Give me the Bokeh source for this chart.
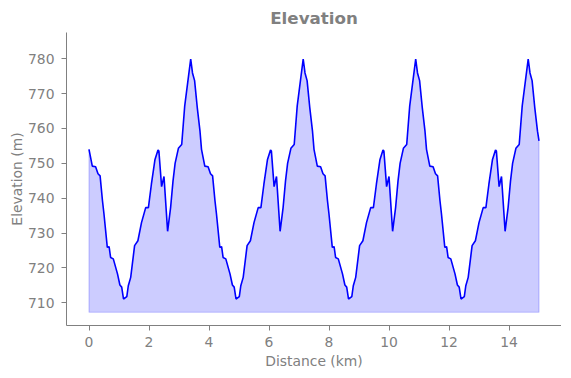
from bokeh.plotting import figure
from bokeh.models import Range1d, FixedTicker, Spacer
from bokeh.layouts import row
from bokeh.embed import file_html
from bokeh.resources import INLINE

# Distance along the course (km) and elevation (m)
distance_km = [
    0.00, 0.11, 0.22, 0.30, 0.37, 0.45, 0.50, 0.61, 0.67, 0.72, 0.81, 0.95, 1.03, 1.09,
    1.15, 1.26, 1.31, 1.39, 1.52, 1.63, 1.75, 1.89, 1.98, 2.08, 2.20, 2.30, 2.33, 2.42,
    2.50, 2.62, 2.72, 2.80, 2.87, 2.98, 3.09, 3.19, 3.31, 3.39, 3.45, 3.52, 3.61, 3.70,
    3.75, 3.86, 3.97, 4.05, 4.12, 4.20, 4.25, 4.36, 4.42, 4.47, 4.56, 4.70, 4.78, 4.84,
    4.90, 5.01, 5.06, 5.14, 5.27, 5.38, 5.50, 5.64, 5.73, 5.83, 5.95, 6.05, 6.08, 6.17,
    6.25, 6.37, 6.47, 6.55, 6.62, 6.73, 6.84, 6.94, 7.06, 7.14, 7.20, 7.27, 7.36, 7.45,
    7.50, 7.61, 7.72, 7.80, 7.87, 7.95, 8.00, 8.11, 8.17, 8.22, 8.31, 8.45, 8.53, 8.59,
    8.65, 8.76, 8.81, 8.89, 9.02, 9.13, 9.25, 9.39, 9.48, 9.58, 9.70, 9.80, 9.83, 9.92,
    10.00, 10.12, 10.22, 10.30, 10.37, 10.48, 10.59, 10.69, 10.81, 10.89, 10.95, 11.02, 11.11, 11.20,
    11.25, 11.36, 11.47, 11.55, 11.62, 11.70, 11.75, 11.86, 11.92, 11.97, 12.06, 12.20, 12.28, 12.34,
    12.40, 12.51, 12.56, 12.64, 12.77, 12.88, 13.00, 13.14, 13.23, 13.33, 13.45, 13.55, 13.58, 13.67,
    13.75, 13.87, 13.97, 14.05, 14.12, 14.23, 14.34, 14.44, 14.56, 14.64, 14.70, 14.77, 14.86, 14.95,
    15.00,
]
elevation_m = [
    754.0, 749.2, 749.0, 747.0, 746.4, 739.2, 735.4, 725.9, 726.1, 723.0, 722.6, 718.3, 715.1, 714.5,
    711.1, 711.8, 714.9, 717.3, 726.4, 727.8, 733.0, 737.3, 737.3, 744.0, 751.1, 753.8, 753.5, 743.3,
    746.2, 730.5, 737.3, 744.9, 750.0, 754.3, 755.4, 766.4, 774.5, 779.9, 775.9, 773.7, 765.9, 759.2,
    754.0, 749.2, 749.0, 747.0, 746.4, 739.2, 735.4, 725.9, 726.1, 723.0, 722.6, 718.3, 715.1, 714.5,
    711.1, 711.8, 714.9, 717.3, 726.4, 727.8, 733.0, 737.3, 737.3, 744.0, 751.1, 753.8, 753.5, 743.3,
    746.2, 730.5, 737.3, 744.9, 750.0, 754.3, 755.4, 766.4, 774.5, 779.9, 775.9, 773.7, 765.9, 759.2,
    754.0, 749.2, 749.0, 747.0, 746.4, 739.2, 735.4, 725.9, 726.1, 723.0, 722.6, 718.3, 715.1, 714.5,
    711.1, 711.8, 714.9, 717.3, 726.4, 727.8, 733.0, 737.3, 737.3, 744.0, 751.1, 753.8, 753.5, 743.3,
    746.2, 730.5, 737.3, 744.9, 750.0, 754.3, 755.4, 766.4, 774.5, 779.9, 775.9, 773.7, 765.9, 759.2,
    754.0, 749.2, 749.0, 747.0, 746.4, 739.2, 735.4, 725.9, 726.1, 723.0, 722.6, 718.3, 715.1, 714.5,
    711.1, 711.8, 714.9, 717.3, 726.4, 727.8, 733.0, 737.3, 737.3, 744.0, 751.1, 753.8, 753.5, 743.3,
    746.2, 730.5, 737.3, 744.9, 750.0, 754.3, 755.4, 766.4, 774.5, 779.9, 775.9, 773.7, 765.9, 759.2,
    756.4,
]
fill_base = 707.3
x_ticks = [0, 2, 4, 6, 8, 10, 12, 14]
y_ticks = [710, 720, 730, 740, 750, 760, 770, 780]

GRAY = "#808080"
FONT = "DejaVu Sans"

p = figure(
    frame_width=495, frame_height=293,
    output_backend="svg", toolbar_location=None,
    x_range=Range1d(-0.75, 15.75), y_range=Range1d(703.5, 787.5),
    min_border_left=0, min_border_right=0, min_border_top=23, min_border_bottom=0,
    title="Elevation",
)
p.title.align = "center"
p.title.text_font = FONT
p.title.text_font_size = "16.7px"
p.title.text_font_style = "bold"
p.title.text_color = GRAY

p.outline_line_color = None
p.xgrid.visible = False
p.ygrid.visible = False
p.background_fill_color = "white"
p.border_fill_color = "white"

# filled area under the profile
p.varea(x=distance_km, y1=[fill_base] * len(distance_km), y2=elevation_m,
        fill_color="blue", fill_alpha=0.2)
p.line(x=[distance_km[0], distance_km[0], distance_km[-1], distance_km[-1]],
       y=[elevation_m[0], fill_base, fill_base, elevation_m[-1]],
       line_color="blue", line_alpha=0.2, line_width=1.2)
p.line(x=distance_km, y=elevation_m, line_color="blue", line_width=1.6)

p.xaxis.ticker = FixedTicker(ticks=x_ticks)
p.yaxis.ticker = FixedTicker(ticks=y_ticks)
p.xaxis.axis_label = "Distance (km)"
p.yaxis.axis_label = "Elevation (m)"

for ax in (p.xaxis[0], p.yaxis[0]):
    ax.axis_line_color = GRAY
    ax.major_tick_line_color = GRAY
    ax.major_tick_out = 5
    ax.major_tick_in = 0
    ax.minor_tick_out = 0
    ax.minor_tick_in = 0
    ax.major_label_text_color = GRAY
    ax.major_label_text_font = FONT
    ax.major_label_text_font_size = "13.9px"
    ax.axis_label_text_color = GRAY
    ax.axis_label_text_font = FONT
    ax.axis_label_text_font_size = "13.9px"
    ax.axis_label_text_font_style = "normal"

p.xaxis.major_label_standoff = 6
p.xaxis.axis_label_standoff = 3
p.yaxis.major_label_standoff = 7
p.yaxis.axis_label_standoff = 0
p.yaxis.major_label_orientation = "horizontal"

layout = row(Spacer(width=5, height=10), p)
open("out.html", "w").write(file_html(layout, INLINE))
